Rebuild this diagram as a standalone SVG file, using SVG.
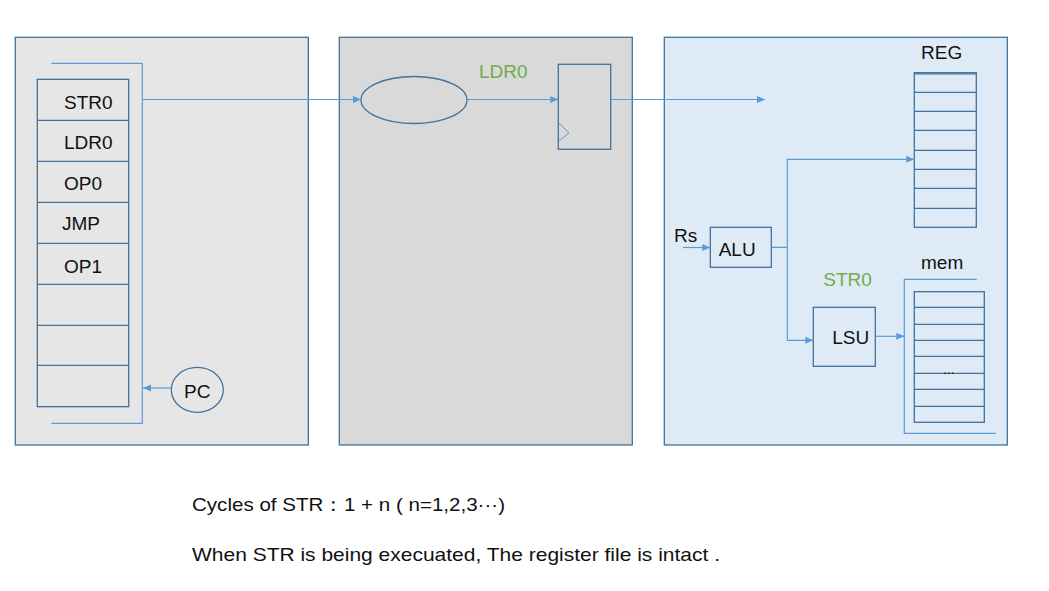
<svg xmlns="http://www.w3.org/2000/svg" width="1049" height="591" viewBox="0 0 1049 591">
<style>
.panel{stroke:#41719c;stroke-width:1.3}
.box{fill:none;stroke:#41719c;stroke-width:1.3}
.row{stroke:#41719c;stroke-width:1.3}
.wire{fill:none;stroke:#5b9bd5;stroke-width:1.2}
.t{font-family:"Liberation Sans",Arial,sans-serif;font-size:19px;fill:#111}
.g{font-family:"Liberation Sans",Arial,sans-serif;font-size:19px;fill:#70ad47}
</style>
<defs>
<marker id="arr" markerWidth="9" markerHeight="8" refX="8" refY="3.5" orient="auto" markerUnits="userSpaceOnUse">
<path d="M0,0 L8,3.5 L0,7 z" fill="#5b9bd5"/>
</marker>
</defs>
<rect width="1049" height="591" fill="#ffffff"/>

<g id="panel-fetch">
<rect class="panel" x="15.3" y="37.3" width="293" height="407.7" fill="#e6e6e6"/>
</g>
<g id="panel-decode">
<rect class="panel" x="339.3" y="37.3" width="293" height="407.7" fill="#d9d9d9"/>
</g>
<g id="panel-execute">
<rect class="panel" x="664.3" y="37.3" width="343" height="407.7" fill="#deebf7"/>
</g>

<g id="instr-mem">
<path class="wire" d="M51.3 63.3 H142.3 V423.3 H51.3"/>
<rect class="box" x="37.3" y="79.3" width="91.4" height="327.4"/>
<line class="row" x1="37.3" y1="120.3" x2="128.7" y2="120.3"/>
<line class="row" x1="37.3" y1="161.3" x2="128.7" y2="161.3"/>
<line class="row" x1="37.3" y1="202.3" x2="128.7" y2="202.3"/>
<line class="row" x1="37.3" y1="243.3" x2="128.7" y2="243.3"/>
<line class="row" x1="37.3" y1="284.3" x2="128.7" y2="284.3"/>
<line class="row" x1="37.3" y1="325.3" x2="128.7" y2="325.3"/>
<line class="row" x1="37.3" y1="365.3" x2="128.7" y2="365.3"/>
<text class="t" x="64" y="109">STR0</text>
<text class="t" x="64" y="149">LDR0</text>
<text class="t" x="64" y="189.5">OP0</text>
<text class="t" x="62" y="229.5">JMP</text>
<text class="t" x="64" y="272.5">OP1</text>
</g>

<g id="pc">
<ellipse class="box" cx="197.3" cy="389.8" rx="26" ry="22.5"/>
<text class="t" x="184" y="397.7">PC</text>
</g>

<g id="decoder">
<ellipse class="box" cx="414" cy="100" rx="53" ry="23.5"/>
</g>

<g id="pipe-reg">
<text class="g" x="479" y="77.7">LDR0</text>
<rect class="box" x="558.3" y="64.3" width="52.4" height="85"/>
<path d="M558.3 122.7 L569 132.7 L558.3 141.7" fill="none" stroke="#5b9bd5" stroke-width="1"/>
</g>

<g id="regfile">
<text class="t" x="921" y="59.3">REG</text>
<rect class="box" x="914.3" y="72.7" width="62" height="154.6"/>
<line class="row" x1="914.3" y1="73.8" x2="976.3" y2="73.8"/>
<line class="row" x1="914.3" y1="92.3" x2="976.3" y2="92.3"/>
<line class="row" x1="914.3" y1="111.3" x2="976.3" y2="111.3"/>
<line class="row" x1="914.3" y1="130.3" x2="976.3" y2="130.3"/>
<line class="row" x1="914.3" y1="150.3" x2="976.3" y2="150.3"/>
<line class="row" x1="914.3" y1="169.3" x2="976.3" y2="169.3"/>
<line class="row" x1="914.3" y1="188.3" x2="976.3" y2="188.3"/>
<line class="row" x1="914.3" y1="208.3" x2="976.3" y2="208.3"/>
</g>

<g id="alu">
<text class="t" x="674" y="241.7">Rs</text>
<rect class="box" x="710.3" y="227.3" width="61" height="40"/>
<text class="t" x="718.7" y="256">ALU</text>
</g>

<g id="lsu">
<text class="g" x="823.3" y="286">STR0</text>
<rect class="box" x="813.3" y="307.3" width="62" height="59"/>
<text class="t" x="832.3" y="344.3">LSU</text>
</g>

<g id="mem">
<text class="t" x="921" y="269">mem</text>
<path class="wire" d="M976.7 279.3 H904.3 V433.3 H995.7"/>
<rect class="box" x="914.3" y="291.7" width="70" height="130.6"/>
<line class="row" x1="914.3" y1="307.3" x2="984.3" y2="307.3"/>
<line class="row" x1="914.3" y1="324.3" x2="984.3" y2="324.3"/>
<line class="row" x1="914.3" y1="340.3" x2="984.3" y2="340.3"/>
<line class="row" x1="914.3" y1="356.3" x2="984.3" y2="356.3"/>
<line class="row" x1="914.3" y1="373.3" x2="984.3" y2="373.3"/>
<line class="row" x1="914.3" y1="389.3" x2="984.3" y2="389.3"/>
<line class="row" x1="914.3" y1="406.3" x2="984.3" y2="406.3"/>
<text x="943" y="373.5" font-family="Liberation Sans,Arial,sans-serif" font-size="14" fill="#111">...</text>
</g>

<g id="connectors">
<line class="wire" x1="142.3" y1="99.5" x2="361" y2="99.5" marker-end="url(#arr)"/>
<line class="wire" x1="467" y1="99.5" x2="558.3" y2="99.5" marker-end="url(#arr)"/>
<line class="wire" x1="610.7" y1="99.5" x2="765" y2="99.5" marker-end="url(#arr)"/>
<line class="wire" x1="171" y1="388" x2="143" y2="388" marker-end="url(#arr)"/>
<line class="wire" x1="683" y1="247.5" x2="710.3" y2="247.5" marker-end="url(#arr)"/>
<path class="wire" d="M771.3 247.3 H787.3 V159.3 H914.3" marker-end="url(#arr)"/>
<path class="wire" d="M787.3 247.3 V340.3 H813.3" marker-end="url(#arr)"/>
<line class="wire" x1="875.3" y1="336.3" x2="904.3" y2="336.3" marker-end="url(#arr)"/>
</g>

<g id="notes">
<text class="t" x="192" y="511" textLength="313" lengthAdjust="spacingAndGlyphs">Cycles of STR：1 + n ( n=1,2,3···)</text>
<text class="t" x="192" y="561" textLength="528" lengthAdjust="spacingAndGlyphs">When STR is being execuated, The register file is intact .</text>
</g>
</svg>
